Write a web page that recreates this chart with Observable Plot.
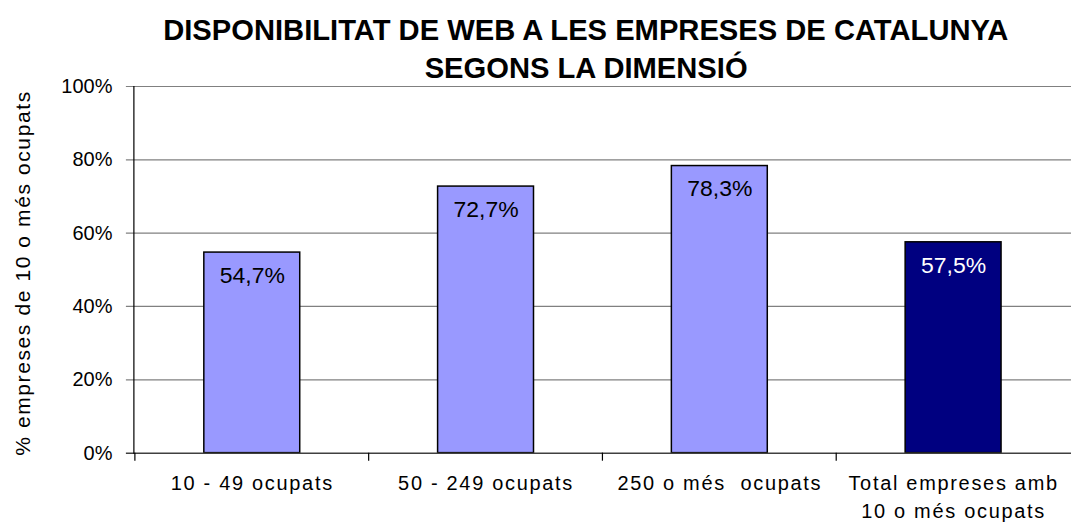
<!DOCTYPE html>
<html><head><meta charset="utf-8">
<script src="https://cdn.jsdelivr.net/npm/d3@7"></script>
<script src="https://cdn.jsdelivr.net/npm/@observablehq/plot@0.6"></script>
<style>
body{margin:0;background:#fff;font-family:"Liberation Sans",Arial,sans-serif;}
#wrap{position:relative;width:1071px;height:523px;overflow:hidden;background:#fff;}
#title{position:absolute;left:0;top:0;width:1172px;height:80px;text-align:center;font-weight:bold;font-size:30px;line-height:38px;padding-top:11px;box-sizing:border-box;z-index:2;}
#title span{display:inline-block;transform:scaleX(0.972);transform-origin:center;white-space:nowrap;}
#ylab{position:absolute;left:23px;top:273px;transform:translate(-50%,-50%) rotate(-90deg);white-space:nowrap;font-size:21px;letter-spacing:1.6px;z-index:2;}
#chart{position:absolute;left:0;top:70px;z-index:1;}
</style></head>
<body><div id="wrap">
<div id="chart"></div>
<div id="title"><span>DISPONIBILITAT DE WEB A LES EMPRESES DE CATALUNYA</span><br><span>SEGONS LA DIMENSIÓ</span></div>
<div id="ylab">% empreses de 10 o més ocupats</div>
</div>
<script>
const categories = ["10 - 49 ocupats", "50 - 249 ocupats", "250 o més  ocupats", "Total empreses amb\n10 o més ocupats"];
const values = [0.547, 0.727, 0.783, 0.575];
const valueLabels = ["54,7%", "72,7%", "78,3%", "57,5%"];
const isTotal = [false, false, false, true];
const yTicks = [0, 0.2, 0.4, 0.6, 0.8, 1.0];

const data = categories.map((c, i) => ({cat: c, v: values[i], label: valueLabels[i], total: isTotal[i]}));

const chart = Plot.plot({
  width: 1072,
  height: 453,
  marginTop: 16,
  marginBottom: 70,
  marginLeft: 134,
  marginRight: 0,
  style: {fontFamily: "Liberation Sans, Arial, sans-serif", fontSize: "20px", color: "#000", background: "transparent", overflow: "visible"},
  x: {domain: categories, paddingInner: 0.59, paddingOuter: 0.295, label: null},
  y: {domain: [0, 1], ticks: yTicks, label: null},
  marks: [
    Plot.ruleY(yTicks.slice(1), {stroke: "#808080", strokeWidth: 1.2, insetLeft: -8}),
    Plot.barY(data, {x: "cat", y: "v", fill: d => d.total ? "#000080" : "#9999ff", stroke: "#000", strokeWidth: 1.5}),
    Plot.ruleY([0], {stroke: "#404040", strokeWidth: 1.5, insetLeft: -8}),
    Plot.frame({anchor: "left", stroke: "#000", strokeWidth: 1.2, dx: -0.5}),
    Plot.ruleX(categories, {x: d => d, dx: -117.5, y1: 0, y2: -0.022, stroke: "#000", strokeWidth: 1.2}),
    Plot.text(data, {x: "cat", y: "v", text: "label", dy: 23, fill: d => d.total ? "#fff" : "#000", fontSize: 23, lineAnchor: "middle", style: "letter-spacing:1.5px"}),
    Plot.axisY({ticks: yTicks, tickFormat: d => Math.round(d * 100) + "%", tickSize: 0, tickPadding: 22, fontSize: 20, label: null}),
    Plot.axisX({tickSize: 0, tickPadding: 17, fontSize: 20, label: null, lineHeight: 1.4})
  ]
});
chart.querySelectorAll("[aria-label='x-axis tick label'] text").forEach(t => t.style.letterSpacing = "1.7px");
document.getElementById("chart").appendChild(chart);
</script>
</body></html>
